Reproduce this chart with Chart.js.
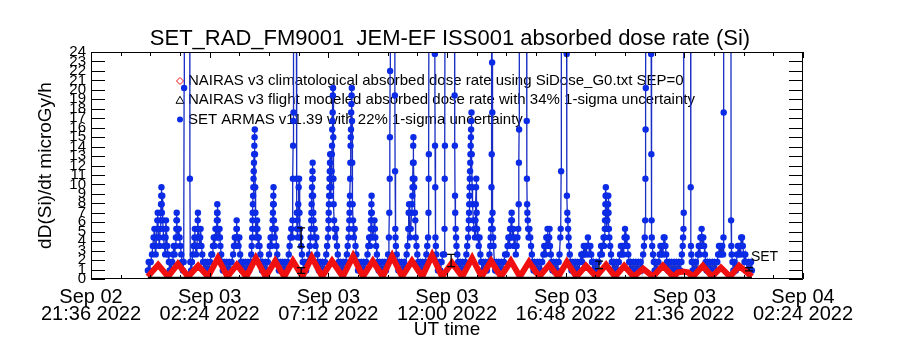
<!DOCTYPE html>
<html>
<head>
<meta charset="utf-8">
<script src="https://cdn.jsdelivr.net/npm/chart.js@4.4.1/dist/chart.umd.min.js"></script>
<style>
  html, body { margin: 0; padding: 0; background: #fff; }
  #wrap { width: 900px; height: 350px; }
</style>
</head>
<body>
<div id="wrap"><canvas id="doseChart" width="900" height="350"></canvas></div>
<script>
const FONT = '"Liberation Sans", Arial, sans-serif';

// time axis: minutes after Sep 02 2022 21:36 UT
const startMinuteOfDay = 21 * 60 + 36;
const xMax = 1728;
const xMajorStep = 288;
const xMinorStep = 72;

// SET ARMAS v11.39 dose rate (microGy/h); 40 = off the top of the plot
const setTime = [
  138, 140, 142, 145,
  148, 150, 152, 154, 155, 157, 159, 161, 162, 163, 164, 166, 168, 169, 169.5, 170, 170.5, 171, 171.5, 172, 173, 174, 175, 176, 178, 180, 181, 182, 183, 185, 187, 189,
  191, 193, 195, 197,
  199, 201, 203, 205, 206, 207, 207.5, 208, 208.5, 209, 211, 213, 215, 217, 219, 221,
  223, 225, 226, 226.5, 239.5, 240, 241,
  243, 245,
  247, 249, 251, 252, 253, 255, 257, 258, 258.5, 259, 259.5, 260, 262, 264, 265, 266, 268, 270, 272,
  274, 277, 280, 283, 286, 289, 292,
  294, 296, 298, 300, 301, 302, 304, 305, 305.5, 306, 306.5, 307, 307.5, 308, 310, 312, 313, 314, 316, 318,
  320, 323, 326, 329, 332, 335, 338, 341,
  345, 347, 349, 351, 352, 353, 353.5, 354, 356, 358, 360, 362, 364,
  366, 369, 372, 375, 378, 381, 384, 387,
  389, 390, 391, 391.5, 392, 392.5, 393, 393.5, 394, 394.5, 395, 395.5, 396, 396.5, 397, 397.5, 398, 398.5, 399, 400, 401, 402, 403, 404, 405, 406, 407, 409, 411, 413, 415,
  417, 420, 423, 426, 429, 432,
  434, 436, 438, 439, 440, 441, 441.5, 442, 442.5, 443, 443.5, 444, 445, 446, 448, 450, 452, 454,
  456, 459, 462, 465, 468, 471, 474, 477,
  480, 482, 484, 486, 488, 489, 490, 490.5, 491, 491.5, 492, 498, 499, 499.5, 500, 501, 502, 503, 504, 505, 506, 507, 508, 510, 512, 514,
  516, 519, 522, 525,
  529, 531, 533, 534, 534.5, 535, 535.5, 536, 536.5, 537, 537.5, 538, 538.5, 539, 539.5, 540, 541, 542, 543, 545, 547, 549, 551,
  553, 556, 559, 562, 565, 568, 571,
  573, 575, 576, 576.5, 577, 577.5, 578, 578.5, 579, 579.5, 580, 580.5, 581, 582, 583, 584, 584.5, 585, 585.5, 586, 586.5, 587, 587.5, 588, 588.5, 589, 590, 591, 593, 595, 597, 599, 601, 603,
  606, 609, 612, 615, 618,
  621, 623, 625, 626, 627, 627.5, 628, 628.5, 629, 629.5, 630, 630.5, 631, 631.5, 632, 632.5, 633, 633.5, 634, 635, 636, 637, 638, 640, 642, 644, 646, 648,
  650, 653, 656, 659, 662, 665, 668,
  671, 673, 675, 677, 678, 679, 679.5, 680, 680.5, 681, 681.5, 682, 684, 686, 688, 689, 690, 692, 694, 696,
  698, 701, 704, 707, 710, 713, 716, 719,
  721, 723, 724, 725, 725.5, 726, 726.5, 737, 737.5, 738, 738.5, 739, 740, 742, 744, 746,
  748, 751, 754, 757, 760, 763, 766,
  768, 770, 771, 772, 773, 774, 776, 778, 779, 780, 780.5, 781, 781.5, 782, 782.5, 783, 784, 785, 786, 787, 788, 790, 792, 794,
  796, 799, 802, 805, 808, 811, 814,
  816, 818, 819, 819.5, 820, 820.5, 834, 834.5, 835, 835.5, 836, 837, 838, 840,
  842, 845, 848, 851, 854,
  857, 858, 858.5, 859, 859.5, 882, 882.5, 883, 883.5, 884, 885, 886, 887, 889, 891,
  893, 896, 899, 902, 905, 908, 911,
  913, 915, 916, 917, 917.5, 918, 918.5, 919, 919.5, 920, 920.5, 921, 921.5, 922, 922.5, 923, 923.5, 924, 925, 926, 928, 930, 932, 933, 934, 934.5, 935, 936, 937, 939, 941, 943, 945, 947,
  949, 952, 955, 958, 961, 964, 967,
  969, 970, 971, 971.5, 972, 972.5, 973, 973.5, 974, 974.5, 975, 976, 977, 979,
  981, 984, 987, 990, 993, 996, 999, 1002, 1005,
  1009, 1011, 1013, 1015, 1016, 1017, 1018, 1019, 1020, 1021, 1021.5, 1022, 1023, 1025, 1027, 1029, 1031, 1033,
  1035, 1037, 1038, 1038.5, 1039, 1039.5, 1057, 1057.5, 1058, 1058.5, 1059, 1060, 1061, 1062, 1064, 1066, 1068, 1070, 1072,
  1074, 1077, 1080, 1083, 1086, 1089, 1092, 1095, 1098,
  1100, 1102, 1104, 1105, 1106, 1107, 1108, 1109, 1110, 1112, 1113, 1114, 1116, 1118, 1120,
  1123, 1126, 1129, 1132, 1135,
  1137, 1139, 1140, 1141, 1141.5, 1154, 1154.5, 1155, 1156, 1157, 1158, 1159, 1160, 1162, 1164,
  1166, 1169, 1172, 1175, 1178, 1181, 1184, 1187,
  1190, 1192, 1194, 1196, 1198, 1200, 1202, 1204, 1206, 1208, 1210, 1212, 1214, 1216, 1218,
  1220, 1223, 1226, 1229, 1232,
  1236, 1238, 1240, 1242, 1244, 1245, 1246, 1247, 1247.5, 1248, 1248.5, 1249, 1249.5, 1250, 1250.5, 1251, 1252, 1253, 1254, 1255, 1255.5, 1256, 1257, 1258, 1260, 1262, 1264, 1266,
  1269, 1272, 1275, 1278, 1281,
  1284, 1286, 1288, 1290, 1292, 1294, 1295, 1296, 1297, 1298, 1300, 1302, 1304, 1306, 1308,
  1310, 1313, 1316, 1319, 1322, 1325, 1328, 1331, 1334, 1337, 1340,
  1342, 1344, 1345, 1345.5, 1346, 1346.5, 1347, 1359, 1359.5, 1360, 1360.5, 1361, 1362, 1364, 1366,
  1368, 1371, 1374, 1377, 1380,
  1382, 1384, 1386, 1388, 1389, 1390, 1391, 1392, 1394, 1396, 1398, 1400,
  1403, 1406, 1409, 1412, 1415, 1418, 1421, 1424, 1427, 1430, 1433,
  1434, 1436, 1437, 1438, 1438.5, 1439, 1455, 1455.5, 1456, 1457, 1458, 1460, 1462,
  1465, 1468, 1471,
  1473, 1475, 1477, 1478, 1479, 1480, 1481, 1482, 1483, 1485, 1486, 1488, 1490, 1492, 1494,
  1496, 1499, 1502, 1505, 1508, 1511, 1514, 1517,
  1520, 1522, 1524, 1526, 1528, 1530, 1532, 1534, 1535, 1535.5, 1536, 1553, 1553.5, 1554, 1555, 1557,
  1559, 1562, 1565,
  1568, 1570, 1572, 1574, 1576, 1577, 1578, 1579, 1580, 1582, 1584, 1586, 1588,
  1590, 1593, 1596, 1599, 1602, 1604
];
const setDose = [
  0.9, 1.8, 0.9, 1.8,
  2.6, 3.5, 4.4, 5.3, 3.5, 2.6, 4.4, 6.2, 7.0, 5.3, 4.4, 3.5, 5.3, 6.2, 7.0, 7.9, 8.8, 9.7, 7.9, 7.0, 8.8, 6.2, 5.3, 4.4, 3.5, 2.6, 4.4, 6.2, 5.3, 3.5, 2.6, 1.8,
  0.9, 1.8, 0.9, 1.8,
  2.6, 3.5, 2.6, 3.5, 4.4, 5.3, 6.2, 7.0, 6.2, 5.3, 4.4, 5.3, 4.4, 3.5, 2.6, 1.8,
  0.9, 1.8, 20.2, 40, 40, 10.6, 1.8,
  0.9, 1.8,
  2.6, 3.5, 4.4, 5.3, 3.5, 2.6, 3.5, 4.4, 5.3, 6.2, 7.0, 5.3, 4.4, 3.5, 4.4, 5.3, 3.5, 2.6, 1.8,
  0.9, 1.8, 0.9, 1.8, 0.9, 1.8, 2.6,
  2.6, 3.5, 4.4, 3.5, 4.4, 5.3, 4.4, 5.3, 6.2, 7.0, 7.9, 7.0, 6.2, 5.3, 4.4, 5.3, 4.4, 3.5, 2.6, 1.8,
  0.9, 1.8, 0.9, 1.8, 0.9, 1.8, 0.9, 1.8,
  2.6, 3.5, 4.4, 3.5, 4.4, 5.3, 6.2, 5.3, 4.4, 3.5, 4.4, 2.6, 1.8,
  0.9, 1.8, 0.9, 1.8, 0.9, 1.8, 0.9, 1.8,
  2.6, 3.5, 4.4, 5.3, 6.2, 7.0, 7.9, 8.8, 9.7, 10.6, 11.4, 12.3, 13.2, 14.1, 15.0, 15.8, 13.2, 9.7, 7.0, 5.3, 4.4, 5.3, 6.2, 5.3, 4.4, 3.5, 4.4, 3.5, 2.6, 1.8, 0.9,
  1.8, 0.9, 1.8, 0.9, 1.8, 2.6,
  3.5, 4.4, 3.5, 4.4, 5.3, 6.2, 7.0, 7.9, 8.8, 9.7, 7.9, 6.2, 5.3, 4.4, 5.3, 3.5, 2.6, 1.8,
  0.9, 1.8, 0.9, 1.8, 0.9, 1.8, 0.9, 1.8,
  2.6, 3.5, 4.4, 5.3, 4.4, 6.2, 10.6, 14.1, 16.7, 17.6, 40, 40, 10.6, 7.0, 5.3, 6.2, 4.4, 7.9, 9.7, 10.6, 7.0, 5.3, 4.4, 3.5, 2.6, 1.8,
  0.9, 1.8, 0.9, 1.8,
  2.6, 3.5, 4.4, 5.3, 6.2, 7.0, 7.9, 8.8, 9.7, 10.6, 11.4, 12.3, 10.6, 8.8, 7.0, 6.2, 5.3, 4.4, 5.3, 3.5, 4.4, 2.6, 1.8,
  0.9, 1.8, 0.9, 1.8, 0.9, 1.8, 2.6,
  3.5, 4.4, 5.3, 6.2, 7.0, 7.9, 8.8, 9.7, 10.6, 11.4, 12.3, 13.2, 10.6, 8.8, 9.7, 11.4, 13.2, 14.1, 15.8, 16.7, 17.6, 19.4, 20.2, 15.0, 10.6, 7.9, 6.2, 5.3, 4.4, 5.3, 3.5, 2.6, 1.8, 0.9,
  1.8, 0.9, 1.8, 0.9, 1.8,
  2.6, 3.5, 4.4, 5.3, 6.2, 7.0, 7.9, 8.8, 10.6, 12.3, 14.1, 15.0, 15.8, 17.6, 18.5, 19.4, 20.2, 16.7, 12.3, 7.9, 6.2, 5.3, 4.4, 5.3, 3.5, 2.6, 1.8, 0.9,
  1.8, 0.9, 1.8, 0.9, 1.8, 0.9, 1.8,
  2.6, 3.5, 4.4, 3.5, 4.4, 5.3, 6.2, 7.0, 7.9, 8.8, 7.0, 5.3, 4.4, 5.3, 6.2, 5.3, 4.4, 3.5, 2.6, 1.8,
  0.9, 1.8, 0.9, 1.8, 0.9, 1.8, 0.9, 1.8,
  2.6, 4.4, 7.0, 10.6, 15.0, 22.0, 40, 40, 19.4, 11.4, 5.3, 4.4, 3.5, 2.6, 1.8, 0.9,
  1.8, 0.9, 1.8, 0.9, 1.8, 0.9, 2.6,
  3.5, 5.3, 7.0, 7.9, 5.3, 4.4, 5.3, 7.0, 7.9, 8.8, 9.7, 10.6, 12.3, 14.1, 15.0, 12.3, 9.7, 10.6, 7.0, 6.2, 4.4, 3.5, 2.6, 1.8,
  0.9, 1.8, 0.9, 1.8, 0.9, 1.8, 2.6,
  3.5, 4.4, 7.0, 10.6, 13.2, 40, 40, 23.8, 14.1, 9.7, 4.4, 3.5, 2.6, 1.8,
  0.9, 1.8, 0.9, 1.8, 2.6,
  2.6, 5.3, 10.6, 14.1, 40, 40, 19.4, 14.1, 8.8, 7.0, 5.3, 4.4, 3.5, 2.6, 1.8,
  0.9, 1.8, 0.9, 1.8, 0.9, 1.8, 2.6,
  3.5, 4.4, 5.3, 6.2, 7.0, 7.9, 8.8, 9.7, 10.6, 11.4, 12.3, 13.2, 14.1, 15.0, 15.8, 16.7, 17.6, 13.2, 9.7, 7.9, 6.2, 5.3, 4.4, 6.2, 7.9, 9.7, 10.6, 7.0, 5.3, 4.4, 3.5, 4.4, 2.6, 1.8,
  0.9, 1.8, 0.9, 1.8, 0.9, 1.8, 2.6,
  3.5, 4.4, 5.3, 6.2, 9.7, 13.2, 40, 22.9, 17.6, 7.0, 5.3, 4.4, 3.5, 1.8,
  0.9, 1.8, 0.9, 1.8, 0.9, 1.8, 0.9, 1.8, 2.6,
  2.6, 3.5, 4.4, 3.5, 4.4, 5.3, 4.4, 5.3, 6.2, 7.0, 6.2, 5.3, 4.4, 5.3, 3.5, 4.4, 2.6, 3.5,
  4.4, 5.3, 7.9, 12.3, 15.8, 40, 40, 16.7, 10.6, 7.9, 7.0, 6.2, 5.3, 4.4, 5.3, 4.4, 3.5, 2.6, 1.8,
  0.9, 1.8, 0.9, 1.8, 0.9, 1.8, 0.9, 1.8, 2.6,
  3.5, 2.6, 3.5, 4.4, 3.5, 4.4, 5.3, 4.4, 3.5, 4.4, 5.3, 3.5, 2.6, 1.8, 0.9,
  1.8, 0.9, 1.8, 0.9, 1.8,
  2.6, 4.4, 5.3, 11.4, 40, 40, 23.8, 8.8, 7.0, 6.2, 5.3, 4.4, 3.5, 2.6, 1.8,
  0.9, 1.8, 0.9, 1.8, 0.9, 1.8, 0.9, 1.8,
  2.6, 1.8, 2.6, 3.5, 2.6, 3.5, 2.6, 3.5, 4.4, 3.5, 2.6, 3.5, 2.6, 1.8, 0.9,
  1.8, 0.9, 1.8, 0.9, 1.8,
  2.6, 3.5, 2.6, 3.5, 4.4, 3.5, 4.4, 5.3, 6.2, 7.0, 7.9, 8.8, 9.7, 8.8, 7.0, 6.2, 5.3, 6.2, 7.0, 7.9, 8.8, 7.0, 5.3, 4.4, 3.5, 2.6, 1.8, 0.9,
  1.8, 0.9, 1.8, 0.9, 1.8,
  2.6, 3.5, 2.6, 3.5, 2.6, 3.5, 4.4, 5.3, 4.4, 3.5, 4.4, 3.5, 2.6, 1.8, 0.9,
  1.8, 0.9, 1.8, 0.9, 1.8, 0.9, 1.8, 0.9, 1.8, 0.9, 2.6,
  3.5, 4.4, 6.2, 10.6, 15.8, 20.2, 40, 40, 23.8, 13.2, 6.2, 4.4, 3.5, 2.6, 1.8,
  0.9, 1.8, 0.9, 1.8, 2.6,
  3.5, 2.6, 3.5, 2.6, 3.5, 4.4, 3.5, 4.4, 3.5, 2.6, 1.8, 0.9,
  1.8, 0.9, 1.8, 0.9, 1.8, 0.9, 1.8, 0.9, 1.8, 0.9, 1.8,
  2.6, 3.5, 4.4, 5.3, 7.0, 40, 40, 9.7, 3.5, 2.6, 1.8, 0.9, 1.8,
  0.9, 1.8, 0.9,
  2.6, 3.5, 2.6, 3.5, 4.4, 3.5, 4.4, 5.3, 4.4, 3.5, 4.4, 3.5, 2.6, 1.8, 0.9,
  1.8, 0.9, 1.8, 0.9, 1.8, 0.9, 1.8, 0.9,
  1.8, 2.6, 3.5, 2.6, 3.5, 2.6, 3.5, 2.6, 4.4, 17.6, 40, 40, 6.2, 3.5, 2.6, 1.8,
  0.9, 1.8, 0.9,
  2.6, 3.5, 2.6, 3.5, 2.6, 3.5, 4.4, 3.5, 4.4, 3.5, 2.6, 1.8, 2.6,
  1.8, 0.9, 1.8, 0.9, 1.8, 0.9
];

// NAIRAS v3 climatological dose rate (humps at each high latitude pass)
const nairasTime = [
  138, 163, 187, 211, 236, 260, 284, 308, 331, 354, 377, 400, 424, 447, 469, 490, 513, 536, 561, 585,
  611, 636, 660, 684, 708, 731, 755, 779, 804, 828, 852, 876, 901, 925, 948, 971, 995, 1019, 1041, 1063,
  1088, 1112, 1134, 1155, 1178, 1201, 1226, 1250, 1272, 1294, 1317, 1340, 1364, 1388, 1413, 1425, 1437, 1449, 1461, 1485,
  1507, 1529, 1551, 1573, 1604
];
const nairasDose = [
  0.25, 1.5, 0.25, 1.6, 0.25, 1.4, 0.25, 2.2, 0.25, 1.5, 0.25, 2.2, 0.25, 1.9, 0.25, 1.9, 0.25, 2.3, 0.25, 1.9,
  0.25, 2.4, 0.25, 1.9, 0.25, 2.4, 0.25, 1.9, 0.25, 2.5, 0.25, 1.7, 0.25, 2.2, 0.25, 1.9, 0.25, 1.9, 0.25, 1.8,
  0.25, 1.5, 0.25, 1.8, 0.25, 1.4, 0.25, 1.5, 0.25, 1.4, 0.25, 1.1, 0.25, 1.4, 0.25, 0.7, 0.8, 0.7, 0.25, 1.4,
  0.25, 1.2, 0.25, 1.4, 0.25
];

// NAIRAS v3 flight modeled dose rate (flat near zero)
const flightTime = [138, 600, 1100, 1604];
const flightDose = [0.08, 0.08, 0.08, 0.08];

// a few uncertainty bars
const errTime = [510, 510, 874, 1233, 1597];
const errLow = [3.4, 0.6, 1.3, 1.1, 0.85];
const errHigh = [5.4, 1.2, 2.6, 1.9, 1.2];

const legendLabels = [
  'NAIRAS v3 climatological absorbed dose rate using SiDose_G0.txt SEP=0',
  'NAIRAS v3 flight modeled absorbed dose rate with 34% 1-sigma uncertainty',
  'SET ARMAS v11.39 with 22% 1-sigma uncertainty'
];
const setTagValue = 2.3;

const BLUE = '#0b2be6';
const BLUE_LINE = '#1a2ec4';
const RED = '#f01010';

function toPoints(xs, ys) {
  const n = Math.min(xs.length, ys.length);
  const out = [];
  for (let i = 0; i < n; i++) out.push({ x: xs[i], y: ys[i] });
  return out;
}

function utLabel(m) {
  const total = startMinuteOfDay + m;
  const day = 2 + Math.floor(total / 1440);
  const hh = Math.floor((total % 1440) / 60);
  const mm = total % 60;
  const pad = v => String(v).padStart(2, '0');
  return ['Sep ' + pad(day), pad(hh) + ':' + pad(mm) + ' 2022'];
}

// legend drawn inside the plot, under the data
const insideLegend = {
  id: 'insideLegend',
  beforeDatasetsDraw(chart) {
    const { ctx, chartArea: a } = chart;
    ctx.save();
    ctx.font = '15px ' + FONT;
    ctx.fillStyle = '#000';
    ctx.textBaseline = 'middle';
    const sx = a.left + 89, tx = a.left + 97;
    legendLabels.forEach((txt, i) => {
      const ly = a.top + 29 + i * 19.3;
      if (i === 0) {
        ctx.strokeStyle = RED; ctx.lineWidth = 1;
        ctx.beginPath();
        ctx.moveTo(sx, ly - 3.5); ctx.lineTo(sx + 3.5, ly); ctx.lineTo(sx, ly + 3.5); ctx.lineTo(sx - 3.5, ly);
        ctx.closePath(); ctx.stroke();
      } else if (i === 1) {
        ctx.strokeStyle = '#000'; ctx.lineWidth = 1;
        ctx.beginPath();
        ctx.moveTo(sx, ly - 4); ctx.lineTo(sx + 4, ly + 3); ctx.lineTo(sx - 4, ly + 3);
        ctx.closePath(); ctx.stroke();
      } else {
        ctx.fillStyle = BLUE;
        ctx.beginPath(); ctx.arc(sx, ly, 3, 0, Math.PI * 2); ctx.fill();
        ctx.fillStyle = '#000';
      }
      ctx.fillText(txt, tx, ly);
    });
    ctx.restore();
  }
};

// error bars and the SET tag at the end of the series
const extras = {
  id: 'extras',
  afterDatasetsDraw(chart) {
    const { ctx, scales: { x, y } } = chart;
    ctx.save();
    ctx.strokeStyle = '#000';
    ctx.lineWidth = 1.3;
    errTime.forEach((t, i) => {
      const px = x.getPixelForValue(t);
      const p1 = y.getPixelForValue(errLow[i]);
      const p2 = y.getPixelForValue(errHigh[i]);
      ctx.beginPath();
      ctx.moveTo(px, p1); ctx.lineTo(px, p2);
      ctx.moveTo(px - 4, p1); ctx.lineTo(px + 4, p1);
      ctx.moveTo(px - 4, p2); ctx.lineTo(px + 4, p2);
      ctx.stroke();
    });
    ctx.font = '14px ' + FONT;
    ctx.fillStyle = '#000';
    ctx.textBaseline = 'middle';
    ctx.fillText('SET', x.getPixelForValue(setTime[setTime.length - 1]) - 1, y.getPixelForValue(setTagValue));
    ctx.restore();
  }
};

// box with inward ticks on all four sides
const frameTicks = {
  id: 'frameTicks',
  afterDraw(chart) {
    const { ctx, chartArea: a, scales: { x, y } } = chart;
    ctx.save();
    ctx.strokeStyle = '#000';
    ctx.lineWidth = 1;
    ctx.beginPath();
    ctx.rect(a.left + 0.5, a.top + 0.5, a.right - a.left - 1, a.bottom - a.top - 1);
    for (let v = 0; v <= 24; v++) {
      const py = Math.round(y.getPixelForValue(v)) + 0.5;
      ctx.moveTo(a.left, py); ctx.lineTo(a.left + 14, py);
      ctx.moveTo(a.right, py); ctx.lineTo(a.right - 14, py);
    }
    for (let m = 0; m <= xMax; m += xMinorStep) {
      const px = Math.round(x.getPixelForValue(m)) + 0.5;
      const len = m % xMajorStep === 0 ? 6 : 4;
      ctx.moveTo(px, a.bottom); ctx.lineTo(px, a.bottom - len);
      ctx.moveTo(px, a.top); ctx.lineTo(px, a.top + len);
    }
    ctx.stroke();
    ctx.restore();
  }
};

Chart.defaults.font.family = FONT;
Chart.defaults.color = '#000';

const ctx = document.getElementById('doseChart').getContext('2d');
new Chart(ctx, {
  type: 'line',
  data: {
    datasets: [
      {
        label: 'SET ARMAS',
        data: toPoints(setTime, setDose),
        borderColor: BLUE_LINE,
        borderWidth: 1.3,
        pointRadius: 3.2,
        pointBackgroundColor: BLUE,
        pointBorderWidth: 0,
        clip: 0,
        order: 3
      },
      {
        label: 'NAIRAS climatological',
        data: toPoints(nairasTime, nairasDose),
        borderColor: RED,
        borderWidth: 6,
        pointRadius: 0,
        clip: 0,
        order: 2
      },
      {
        label: 'NAIRAS flight',
        data: toPoints(flightTime, flightDose),
        borderColor: '#000',
        borderWidth: 3,
        pointRadius: 0,
        clip: 0,
        order: 1
      }
    ]
  },
  options: {
    responsive: false,
    animation: false,
    parsing: false,
    layout: { padding: { left: 0, right: 0, top: 0, bottom: 0 } },
    plugins: {
      legend: { display: false },
      tooltip: { enabled: false },
      title: {
        display: true,
        text: 'SET_RAD_FM9001  JEM-EF ISS001 absorbed dose rate (Si)',
        color: '#000',
        font: { family: FONT, size: 22, weight: 'normal', lineHeight: '26px' },
        padding: { top: 26, bottom: 0 }
      }
    },
    scales: {
      x: {
        type: 'linear',
        min: 0,
        max: xMax,
        grid: { display: false, drawTicks: false },
        border: { display: false },
        ticks: {
          stepSize: xMajorStep,
          autoSkip: false,
          maxRotation: 0,
          padding: 10,
          color: '#000',
          font: { family: FONT, size: 20, lineHeight: '17px' },
          callback: v => utLabel(v)
        },
        title: {
          display: true,
          text: 'UT time',
          color: '#000',
          font: { family: FONT, size: 19 },
          padding: { top: 0, bottom: 9 }
        },
        afterFit: s => { s.height = 71; }
      },
      y: {
        min: 0,
        max: 24,
        grid: { display: false, drawTicks: false },
        border: { display: false },
        ticks: {
          stepSize: 1,
          autoSkip: false,
          padding: 5,
          color: '#000',
          font: { family: FONT, size: 15 }
        },
        title: {
          display: true,
          text: 'dD(Si)/dt microGy/h',
          color: '#000',
          font: { family: FONT, size: 19 },
          padding: { top: 34, bottom: 0 }
        },
        afterFit: s => { s.width = 91; }
      },
      // empty right margin so the title centres over the plot
      yRight: {
        position: 'right',
        min: 0,
        max: 24,
        grid: { display: false, drawTicks: false },
        border: { display: false },
        ticks: { display: false },
        afterFit: s => { s.width = 97; }
      }
    }
  },
  plugins: [insideLegend, extras, frameTicks]
});
</script>
</body>
</html>
